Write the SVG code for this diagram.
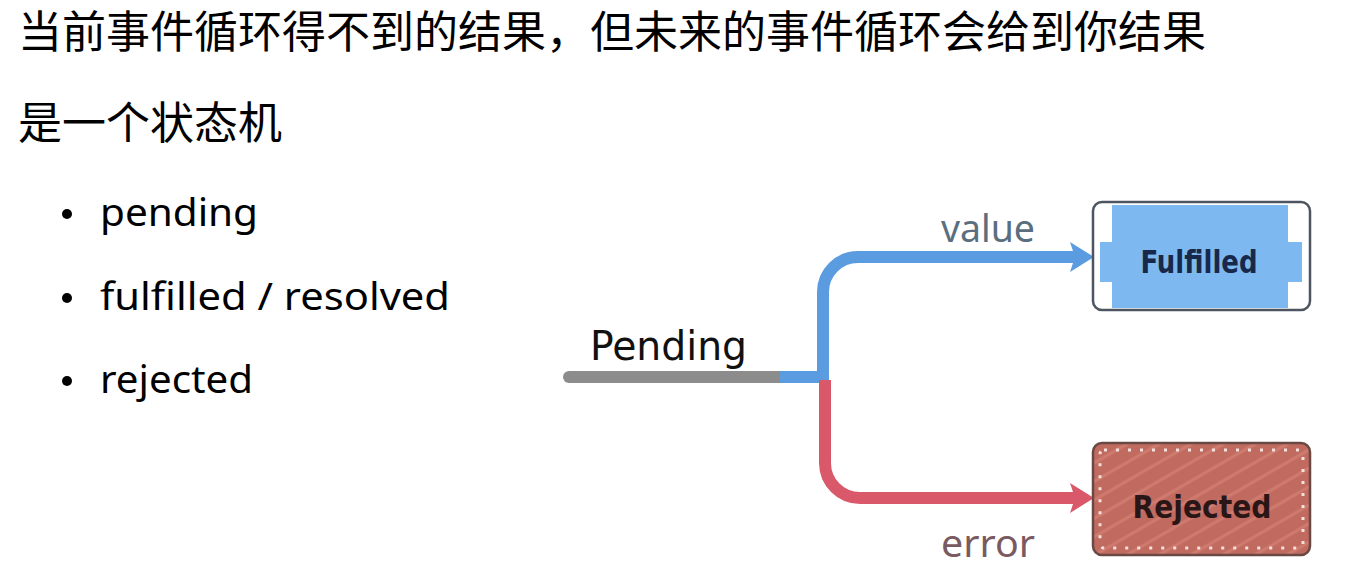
<svg xmlns="http://www.w3.org/2000/svg" width="1348" height="584" viewBox="0 0 1348 584">
<style>
.title{font-family:"Noto Sans CJK SC","Noto Sans",sans-serif;font-size:44px;fill:#000;}
.bullet{font-family:"Noto Sans","Open Sans",sans-serif;font-size:38px;fill:#000;}
.conn{fill:none;stroke-width:12;}
.lbl{font-family:"Noto Sans","DejaVu Sans",sans-serif;font-size:38px;}
.box{font-family:"DejaVu Sans Condensed","DejaVu Sans",sans-serif;font-weight:bold;font-size:32px;}
</style>
<defs>
<marker id="arrBlue" markerUnits="userSpaceOnUse" markerWidth="26" markerHeight="32" refX="10" refY="15" orient="auto">
<path d="M0,0 L24,15 L0,30 L5,15 Z" fill="#5b9be0"/>
</marker>
<marker id="arrRed" markerUnits="userSpaceOnUse" markerWidth="26" markerHeight="32" refX="10" refY="15" orient="auto">
<path d="M0,0 L24,15 L0,30 L5,15 Z" fill="#d9596a"/>
</marker>
<pattern id="hatch" patternUnits="userSpaceOnUse" width="16" height="16" patternTransform="rotate(-30)">
<rect width="16" height="16" fill="#c16a60"/>
<line x1="0" y1="4" x2="16" y2="4" stroke="#cf7b70" stroke-width="3"/>
</pattern>
</defs>

<g id="text-block">
<text class="title" x="18" y="48">当前事件循环得不到的结果，但未来的事件循环会给到你结果</text>
<text class="title" x="18" y="139">是一个状态机</text>
<circle cx="67" cy="214" r="5" fill="#000"/>
<text class="bullet" x="100" y="226" textLength="158" lengthAdjust="spacingAndGlyphs">pending</text>
<circle cx="67" cy="298" r="5" fill="#000"/>
<text class="bullet" x="100" y="310" textLength="350" lengthAdjust="spacingAndGlyphs">fulfilled / resolved</text>
<circle cx="67" cy="381" r="5" fill="#000"/>
<text class="bullet" x="100" y="393" textLength="153" lengthAdjust="spacingAndGlyphs">rejected</text>
</g>

<g id="connectors">
<path class="conn" d="M569 377 H782" stroke="#8c8c8c" stroke-linecap="round"/>
<path class="conn" d="M780 377 H823 V292 A35 35 0 0 1 858 257 H1080" stroke="#5b9be0" marker-end="url(#arrBlue)"/>
<path class="conn" d="M825 380 V463 A35 35 0 0 0 860 498 H1080" stroke="#d9596a" marker-end="url(#arrRed)"/>
<text class="lbl" x="988" y="242" text-anchor="middle" fill="#5a6e80" textLength="94" lengthAdjust="spacingAndGlyphs">value</text>
<text class="lbl" x="988" y="557" text-anchor="middle" fill="#7a5a60" textLength="94" lengthAdjust="spacingAndGlyphs">error</text>
</g>

<g id="node-pending">
<text x="590" y="360" font-family="DejaVu Sans Condensed,DejaVu Sans,sans-serif" font-size="40" fill="#111" textLength="157" lengthAdjust="spacingAndGlyphs">Pending</text>
</g>

<g id="node-fulfilled">
<rect x="1112" y="205" width="176" height="103" fill="#7db9f0"/>
<rect x="1100" y="242" width="202" height="40" fill="#7db9f0"/>
<rect x="1093" y="202" width="217" height="108" rx="9" fill="none" stroke="#4d5560" stroke-width="2.5"/>
<text class="box" x="1199" y="273" text-anchor="middle" fill="#18284a" textLength="117" lengthAdjust="spacingAndGlyphs">Fulfilled</text>
</g>

<g id="node-rejected">
<rect x="1093" y="443" width="217" height="112" rx="9" fill="url(#hatch)" stroke="#6a4843" stroke-width="2.5"/>
<rect x="1100" y="450" width="203" height="98" rx="4" fill="none" stroke="#f4e0dc" stroke-width="3" stroke-dasharray="3 9"/>
<text class="box" x="1202" y="518" text-anchor="middle" fill="#2a1616" textLength="139" lengthAdjust="spacingAndGlyphs">Rejected</text>
</g>
</svg>
